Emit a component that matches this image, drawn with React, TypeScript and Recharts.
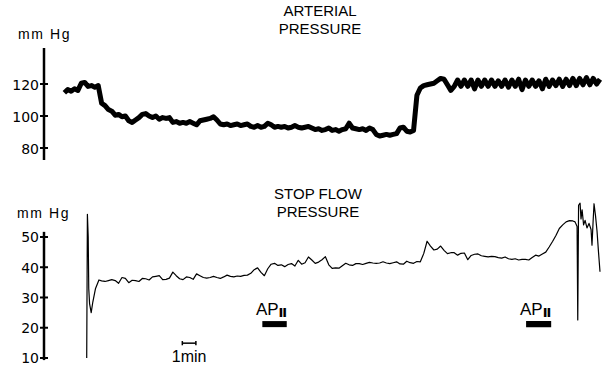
import React from 'react';
import { LineChart, Line, XAxis, YAxis, ReferenceArea, ReferenceLine } from 'recharts';

const SANS = '"Liberation Sans", Arial, sans-serif';
const DEJAVU = '"DejaVu Sans", sans-serif';
const AXIS_X = 44;

const minutesDomain: [number, number] = [0, 41];
const sampleStep = 0.25;

// arterial pressure, mmHg, one reading every quarter minute from 1.5 min
const arterialStart = 1.5;
const arterialMmHg = [
  114.5, 116.5, 115.5, 117, 116, 120.5, 121, 118.5,
  119, 118, 119, 108, 106.5, 104, 103, 100.5,
  101, 99.5, 100, 97, 96, 97.5, 99, 101,
  101.5, 100, 99, 100, 98, 99, 98.5, 99,
  96, 96.5, 95.5, 96, 95.5, 96.5, 95.5, 94.5,
  97, 97.5, 98, 98.5, 99.5, 97.5, 95, 94.5,
  95, 94, 94.5, 95, 94, 94.5, 95, 93.5,
  93, 94, 93, 93.5, 95.5, 94.5, 93, 93.5,
  93, 93.5, 92.5, 93, 94, 93, 92.5, 93,
  93.5, 92.5, 91.5, 92, 91, 91.5, 92.5, 91,
  91.5, 90.5, 91.5, 92, 95.5, 92.5, 92, 91.5,
  92, 91, 92.5, 91.5, 88.5, 87.5, 88, 88.5,
  88, 88.5, 89, 92.5, 93, 90.5, 90, 91,
  113, 117.5, 119, 119.5, 120, 120.5, 122, 123.5,
  123, 119.5, 116, 118.5, 122.5, 118.5, 122.5, 118.5,
  122.5, 117, 122.5, 118.5, 122.5, 118.5, 122.5, 118.5,
  122, 118.5, 122.5, 118, 122.5, 118.5, 123, 116.5,
  122.5, 118.5, 122.5, 118.5, 122, 117, 123, 118.5,
  122.5, 119, 123, 118.5, 123, 119, 123.5, 119,
  123.5, 119.5, 124, 119.5, 123.5, 120, 123,
];
const arterialTicks = [80, 100, 120];

// stop flow pressure, mmHg
const stopFlowOnset: [number, number][] = [
  [3.15, 10], [3.2, 57.5], [3.26, 50], [3.3, 33], [3.36, 28],
  [3.48, 25], [3.6, 28.5], [3.8, 33], [4.05, 35.8], [4.25, 35.5],
];
const stopFlowStart = 4.5;
const stopFlowMmHg = [
  35.3, 35.6, 35.9, 35.6, 34.7, 36.6, 36.3, 34.9, 35.7, 35.6,
  35.3, 36.3, 36.2, 35.8, 36.8, 37.0, 37.2, 35.9, 36.0, 36.4,
  38.4, 37.2, 36.2, 35.9, 36.8, 36.6, 36.0, 37.8, 37.2, 36.6,
  36.4, 36.6, 37.0, 36.6, 36.3, 36.8, 37.4, 37.0, 36.8, 37.1,
  37.0, 37.3, 37.4, 38.0, 39.2, 39.8, 38.3, 37.2, 39.5, 41.0,
  41.3, 40.6, 40.8, 40.2, 40.9, 41.2, 40.4, 42.3, 41.0, 41.5,
  43.4, 42.4, 41.3, 41.7, 42.5, 43.5, 40.8, 39.6, 39.8, 39.7,
  40.5, 41.3, 40.8, 40.6, 41.2, 41.2, 40.9, 41.3, 41.6, 41.4,
  41.3, 41.4, 41.8, 41.4, 41.2, 41.5, 41.8, 41.1, 41.0, 42.0,
  41.5, 41.3, 41.9, 41.8, 44.5, 48.6, 47.0, 45.7, 46.0, 47.0,
  45.6, 44.5, 44.8, 44.8, 44.0, 44.6, 44.7, 42.5, 43.9, 44.3,
  44.4, 43.8, 43.6, 43.4, 43.6, 43.5, 43.2, 43.0, 43.4, 42.8,
  42.6, 42.8, 42.4, 42.6, 42.6, 42.4, 43.2, 44.0, 43.7, 44.4,
  45.0, 46.7, 48.5, 50.5, 52.8, 54.0, 55.0, 55.4, 55.3,
];
const stopFlowEnd: [number, number][] = [
  [39.16, 55], [39.31, 53.5], [39.36, 22.6], [39.42, 60.5], [39.53, 61.2],
  [39.6, 56], [39.68, 59], [39.79, 54], [39.9, 55.5], [40.04, 53],
  [40.19, 54.5], [40.34, 52.5], [40.41, 47.3], [40.49, 55], [40.56, 61],
  [40.67, 57], [40.78, 52], [40.89, 45], [41, 38.5],
];
const stopFlowTicks = [10, 20, 30, 40, 50];

// AP II infusion periods, minutes
const apTwoPeriods: [number, number][] = [[16.1, 17.9], [35.55, 37.4]];
const scaleBarMinutes: [number, number] = [10.2, 11.2];

const arterialData = arterialMmHg.map((v, i) => ({ min: arterialStart + i * sampleStep, p: v }));
const stopFlowData = [
  ...stopFlowOnset.map(([t, v]) => ({ min: t, p: v })),
  ...stopFlowMmHg.map((v, i) => ({ min: stopFlowStart + i * sampleStep, p: v })),
  ...stopFlowEnd.map(([t, v]) => ({ min: t, p: v })),
];

const CrossTick = (props: any) => {
  const { y, payload } = props;
  return (
    <g>
      <line x1={AXIS_X - 4} x2={AXIS_X + 4} y1={y} y2={y} stroke="#000" strokeWidth={2} />
      <text x={AXIS_X - 5} y={y} dy={5.5} textAnchor="end" fontFamily={DEJAVU} fontSize={14} fill="#000">
        {payload.value}
      </text>
    </g>
  );
};

const apLabel = (props: any) => {
  const { x, y, width } = props.viewBox;
  return (
    <text x={x + width / 2 - 3} y={y - 6} textAnchor="middle" fontFamily={SANS} fontSize={17} fill="#000">
      AP
      <tspan fontFamily={DEJAVU} fontWeight="bold" fontSize={13} dy={2}>Ⅱ</tspan>
    </text>
  );
};

const minuteLabel = (props: any) => {
  const { x, y, width } = props.viewBox;
  return (
    <text x={x + width / 2} y={y + 19} textAnchor="middle" fontFamily={SANS} fontSize={16} fill="#000">
      1min
    </text>
  );
};

export default function App() {
  return (
    <div style={{ position: 'absolute', left: 0, top: 0, width: 604, height: 369, background: '#fff' }}>
      <div style={{ position: 'absolute', left: 0, top: 0 }}>
        <LineChart width={604} height={170} data={arterialData} margin={{ top: 48, right: 4, bottom: 10, left: 0 }}>
          <XAxis type="number" dataKey="min" domain={minutesDomain} hide />
          <YAxis
            type="number"
            domain={[72.5, 142.5]}
            ticks={arterialTicks}
            interval={0}
            width={AXIS_X}
            axisLine={{ stroke: '#000', strokeWidth: 2.5 }}
            tickLine={false}
            tick={<CrossTick />}
          />
          <Line
            type="linear"
            dataKey="p"
            stroke="#000"
            strokeWidth={5}
            strokeLinejoin="round"
            dot={false}
            isAnimationActive={false}
          />
        </LineChart>
      </div>
      <div style={{ position: 'absolute', left: 0, top: 180 }}>
        <LineChart width={604} height={189} data={stopFlowData} margin={{ top: 20.7, right: 4, bottom: 8.9, left: 0 }}>
          <XAxis type="number" dataKey="min" domain={minutesDomain} hide />
          <YAxis
            type="number"
            domain={[9.3, 62]}
            ticks={stopFlowTicks}
            interval={0}
            width={AXIS_X}
            axisLine={false}
            tickLine={false}
            tick={<CrossTick />}
          />
          <ReferenceLine
            segment={[{ x: 0, y: 9.3 }, { x: 0, y: 51.7 }]}
            stroke="#000"
            strokeWidth={2.5}
          />
          {apTwoPeriods.map(([a, b], i) => (
            <ReferenceArea
              key={i}
              x1={a}
              x2={b}
              y1={20.2}
              y2={22.2}
              fill="#000"
              fillOpacity={1}
              stroke="none"
              label={apLabel}
            />
          ))}
          <ReferenceLine
            segment={[{ x: scaleBarMinutes[0], y: 14.9 }, { x: scaleBarMinutes[1], y: 14.9 }]}
            stroke="#000"
            strokeWidth={1.5}
            label={minuteLabel}
          />
          {scaleBarMinutes.map((t) => (
            <ReferenceLine
              key={t}
              segment={[{ x: t, y: 14.2 }, { x: t, y: 15.6 }]}
              stroke="#000"
              strokeWidth={1.5}
            />
          ))}
          <Line
            type="linear"
            dataKey="p"
            stroke="#000"
            strokeWidth={1.2}
            strokeLinejoin="round"
            dot={false}
            isAnimationActive={false}
          />
        </LineChart>
      </div>
      <svg width={604} height={369} style={{ position: 'absolute', left: 0, top: 0, pointerEvents: 'none' }}>
        <g fontFamily={SANS} fontSize={15} fill="#000" textAnchor="middle">
          <text x={320} y={16}>ARTERIAL</text>
          <text x={320} y={34}>PRESSURE</text>
          <text x={318} y={199}>STOP FLOW</text>
          <text x={318} y={217}>PRESSURE</text>
        </g>
        <g fontFamily={SANS} fontSize={14} fill="#000" letterSpacing={1.6}>
          <text x={18} y={39}>mm Hg</text>
          <text x={17} y={218}>mm Hg</text>
        </g>
      </svg>
    </div>
  );
}
